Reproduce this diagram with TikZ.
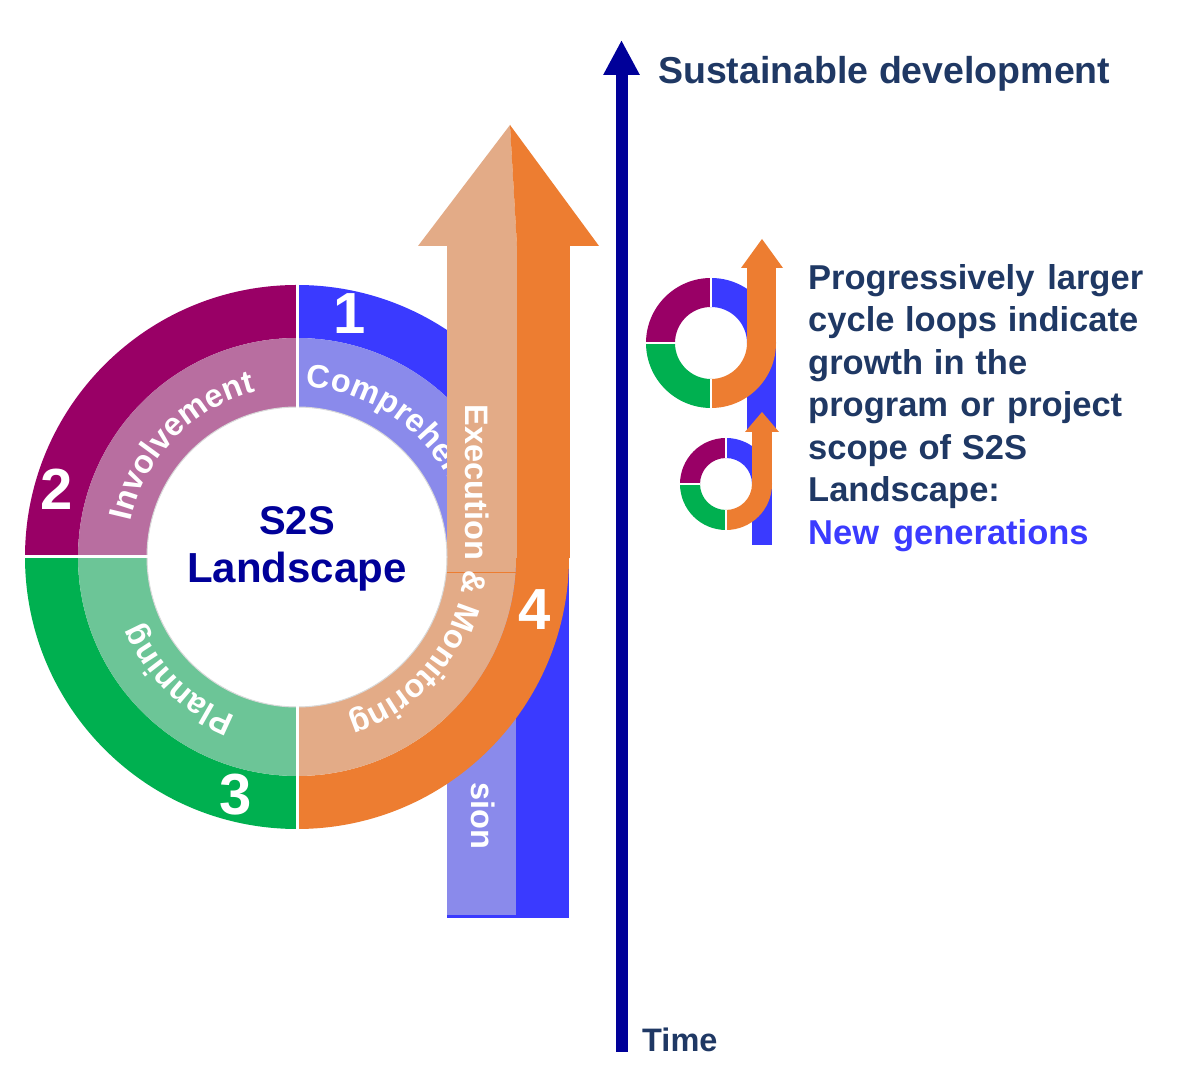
\documentclass[tikz,border=0pt]{standalone}
\usepackage{fontspec}
\setmainfont{Liberation Sans}
\usetikzlibrary{calc,decorations.text,arrows.meta}
\definecolor{pdark}{RGB}{153,0,102}
\definecolor{plight}{RGB}{184,110,160}
\definecolor{gdark}{RGB}{0,176,80}
\definecolor{glight}{RGB}{108,197,151}
\definecolor{bdark}{RGB}{58,58,255}
\definecolor{blight}{RGB}{138,138,235}
\definecolor{odark}{RGB}{237,125,49}
\definecolor{olight}{RGB}{227,171,135}
\definecolor{axisblue}{RGB}{0,0,153}
\definecolor{navy}{RGB}{31,56,100}
\definecolor{newgen}{RGB}{59,59,255}
\newcommand{\ringfont}{\fontsize{32.5}{32.5}\selectfont\bfseries}
\newcommand{\annsec}[6]{%
  \fill[#2] ($(#1)+(#3:#6)$) arc[start angle=#3,end angle=#4,radius=#6]
    -- ($(#1)+(#4:#5)$) arc[start angle=#4,end angle=#3,radius=#5] -- cycle;}
\tikzset{
  ringtext/.style={decorate, decoration={text along path, text={|\ringfont|#1}, text align=left, text color=white}},
  numlbl/.style={text=white, font=\fontsize{58}{58}\selectfont\bfseries, inner sep=0pt},
  ctrtext/.style={text=axisblue, font=\fontsize{42}{42}\selectfont\bfseries, inner sep=0pt, anchor=base},
  paratext/.style={text=navy, font=\fontsize{34.5}{40}\selectfont\bfseries, inner sep=0pt, anchor=base west},
  axisline/.style={draw=axisblue, line width=12pt, -{Triangle[width=34pt,length=35pt]}},
  sepline/.style={draw=white, line width=3pt},
  sepsmall/.style={draw=white, line width=1.5pt}
}
\begin{document}
\begin{tikzpicture}[x=1pt,y=1pt]
\useasboundingbox (0,0) rectangle (1193,1086);
\fill[white] (0,0) rectangle (1193,1086);
\coordinate (c0) at (297,529);
% purple and green quadrants
\annsec{c0}{pdark}{90}{180}{219}{272}
\annsec{c0}{plight}{90}{180}{150}{219}
\annsec{c0}{gdark}{180}{270}{219}{272}
\annsec{c0}{glight}{180}{270}{150}{219}
% blue quadrant and bar
\annsec{c0}{bdark}{0}{90}{219}{272}
\annsec{c0}{blight}{0}{90}{150}{219}
\fill[bdark] (447,168) rectangle (569,530);
\fill[blight] (447,171) rectangle (516,530);
\path[ringtext={Comprehension}] ($(c0)+(87:170)$) arc[start angle=87,end angle=-5,radius=170];
\node[text=white, font=\ringfont, inner sep=0pt, rotate=-90, anchor=base west] (sion) at (471,304) {sion};
% orange quadrant, bar and head
\annsec{c0}{odark}{270}{360}{219}{272}
\annsec{c0}{olight}{270}{360}{150}{219}
\fill[odark] (516,528) rectangle (570,841);
\fill[olight] (447,528) rectangle (517,841);
\fill[olight] (418,840) -- (510,961) -- (517,840) -- cycle;
\fill[odark] (510,961) -- (599,840) -- (517,840) -- cycle;
\draw[odark, line width=0.8pt] (447,514) -- (516,514);
\path[ringtext={Execution {\&} Monitoring}] (465,681) -- (465,529) arc[start angle=0,end angle=-90,radius=168];
% ring texts
\path[ringtext={Involvement}] ($(c0)+(168:170)$) arc[start angle=168,end angle=90,radius=170];
\path[ringtext={Planning}] ($(c0)+(249:170)$) arc[start angle=249,end angle=180,radius=170];
% inner edge and separators
\draw[gray!30, line width=1pt] (c0) circle[radius=150];
\draw[sepline] (297,678) -- (297,802);
\draw[sepline] (297,380) -- (297,256);
\draw[sepline] (24,529.5) -- (148,529.5);
% numbers
\node[numlbl] (n1) at (350,772) {1};
\node[numlbl] (n2) at (57,597) {2};
\node[numlbl] (n3) at (236,291) {3};
\node[numlbl] (n4) at (535,476) {4};
% centre
\node[ctrtext, font=\fontsize{40}{40}\selectfont\bfseries] (s2s) at (297,551) {S2S};
\node[ctrtext] (land) at (297,503) {Landscape};
% time axis
\coordinate (tb) at (621.5,34);
\coordinate (tt) at (621.5,1046);
\draw[axisline] (tb) -- (tt);
\node[text=navy, font=\fontsize{32.5}{36}\selectfont\bfseries, inner sep=0pt, anchor=base west] (time) at (642,34) {Time};
\node[text=navy, font=\fontsize{37.5}{40}\selectfont\bfseries, inner sep=0pt, anchor=base west] (sd) at (658,1002) {Sustainable development};
% big icon
\coordinate (c1) at (711,743);
\annsec{c1}{pdark}{90}{180}{36}{65}
\annsec{c1}{gdark}{180}{270}{36}{65}
\annsec{c1}{bdark}{0}{90}{36}{65}
\fill[bdark] (747,654) rectangle (776,743.5);
\annsec{c1}{odark}{270}{360}{36}{65}
\fill[odark] (747,742.5) rectangle (776,819);
\fill[odark] (741,818) -- (762,847) -- (783,818) -- cycle;
\draw[sepsmall] (711,779) -- (711,809);
\draw[sepsmall] (711,707) -- (711,677);
\draw[sepsmall] (645,743) -- (676,743);
% small icon
\coordinate (c2) at (726,602);
\annsec{c2}{pdark}{90}{180}{26}{46}
\annsec{c2}{gdark}{180}{270}{26}{46}
\annsec{c2}{bdark}{0}{90}{26}{46}
\fill[bdark] (752,541) rectangle (772,602.5);
\annsec{c2}{odark}{270}{360}{26}{46}
\fill[odark] (752,601.5) rectangle (772,655);
\fill[odark] (745,654) -- (762,674) -- (779,654) -- cycle;
\draw[sepsmall] (726,628) -- (726,649);
\draw[sepsmall] (726,576) -- (726,555);
\draw[sepsmall] (679,602) -- (700,602);
% paragraph
\node[paratext] (p1) at (808,796) {\makebox[335pt][s]{Progressively larger}};
\node[paratext] (p2) at (808,754) {\makebox[330pt][s]{cycle loops indicate}};
\node[paratext] (p3) at (808,711) {\makebox[219pt][s]{growth in the}};
\node[paratext] (p4) at (808,669) {\makebox[314pt][s]{program or project}};
\node[paratext] (p5) at (808,626) {\makebox[219pt][s]{scope of S2S}};
\node[paratext] (p6) at (808,584) {Landscape:};
\node[paratext, text=newgen] (p7) at (808,541) {\makebox[277pt][s]{N\hfil e\hfil w\hspace{14pt}\hfil g\hfil e\hfil n\hfil e\hfil r\hfil a\hfil t\hfil i\hfil o\hfil n\hfil s}};
\end{tikzpicture}
\end{document}
